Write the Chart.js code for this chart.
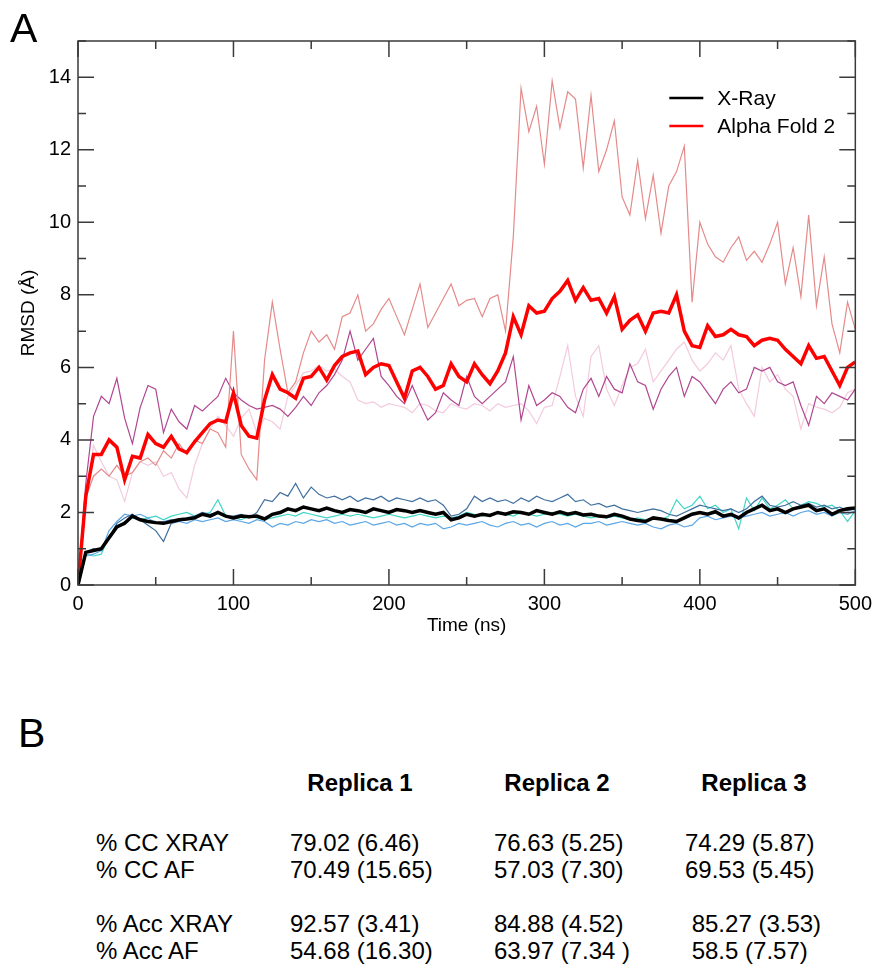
<!DOCTYPE html>
<html>
<head>
<meta charset="utf-8">
<script src="https://cdn.jsdelivr.net/npm/chart.js@4.4.1/dist/chart.umd.min.js"></script>
<style>
  body { margin: 0; background: #fff; font-family: "Liberation Sans", Arial, sans-serif; color: #000; }
  #page { position: relative; width: 879px; height: 967px; overflow: hidden; }
  #plot { position: absolute; left: 0; top: 0; width: 879px; height: 660px; }
  .lbl { position: absolute; font-size: 41px; line-height: 1; }
  .t { position: absolute; font-size: 24px; line-height: 1; white-space: pre; }
  .h { font-weight: bold; }
</style>
</head>
<body>
<div id="page">
  <div id="plot"><canvas id="rmsd" width="879" height="660"></canvas></div>
  <div class="lbl" style="left:10px; top:8px;">A</div>
  <div class="lbl" style="left:18px; top:713px;">B</div>
  <div id="tabla"></div>
</div>
<script>
// tempo: un punto ogni 5 ns, da 0 a 500
const passo = 5;

// X-Ray: media (linea spessa) e tre repliche
const xrayMedia = [0, 0.9, 0.95, 1.0, 1.3, 1.6, 1.7, 1.9, 1.8, 1.75, 1.72, 1.7, 1.75, 1.8, 1.82, 1.85, 1.95, 1.9, 2.0, 1.9,
  1.85, 1.9, 1.88, 1.9, 1.82, 1.95, 2.0, 2.1, 2.05, 2.15, 2.1, 2.05, 2.12, 2.05, 2.0, 2.08, 2.05, 2.0, 2.1, 2.05,
  2.0, 2.08, 2.05, 2.0, 2.05, 2.0, 1.95, 2.0, 1.8, 1.85, 1.95, 1.9, 1.95, 1.92, 2.0, 1.95, 2.02, 2.0, 1.95, 2.05,
  2.0, 1.95, 2.02, 1.95, 2.0, 1.93, 1.95, 1.9, 1.88, 1.95, 1.9, 1.82, 1.78, 1.75, 1.85, 1.82, 1.78, 1.75, 1.85, 1.95,
  2.0, 1.95, 2.02, 1.9, 1.95, 1.85, 2.0, 2.1, 2.2, 2.05, 2.1, 2.0, 2.1, 2.15, 2.2, 2.05, 2.1, 1.95, 2.05, 2.1, 2.12];
const xrayRep1 = [0, 0.9, 1.0, 0.95, 1.3, 1.7, 1.85, 1.95, 1.8, 1.65, 1.5, 1.2, 1.7, 1.75, 1.85, 1.9, 2.0, 1.95, 2.0, 1.9,
  1.9, 1.95, 1.85, 2.0, 2.35, 2.3, 2.55, 2.45, 2.8, 2.4, 2.7, 2.5, 2.4, 2.45, 2.35, 2.45, 2.3, 2.4, 2.35, 2.45,
  2.3, 2.4, 2.35, 2.3, 2.4, 2.3, 2.35, 2.2, 1.9, 1.95, 2.1, 2.45, 2.3, 2.4, 2.3, 2.35, 2.25, 2.4, 2.3, 2.45,
  2.35, 2.3, 2.4, 2.5, 2.3, 2.35, 2.2, 2.25, 2.15, 2.2, 2.1, 2.05, 2.0, 2.05, 2.1, 2.05, 1.95, 1.9, 2.0, 2.1,
  2.2, 2.15, 2.1, 2.05, 2.1, 2.0, 2.1, 2.3, 2.45, 2.2, 2.15, 2.2, 2.3, 2.2, 2.25, 2.15, 2.2, 2.1, 2.15, 2.05, 2.1];
const xrayRep2 = [0, 0.8, 0.85, 0.95, 1.5, 1.75, 1.95, 1.9, 1.95, 1.85, 1.7, 1.75, 1.8, 1.75, 1.7, 1.8, 1.75, 1.8, 1.85, 1.75,
  1.8, 1.75, 1.7, 1.8, 1.75, 1.6, 1.7, 1.65, 1.75, 1.7, 1.8, 1.75, 1.8, 1.7, 1.75, 1.65, 1.7, 1.75, 1.65, 1.7,
  1.75, 1.65, 1.7, 1.6, 1.7, 1.65, 1.7, 1.55, 1.6, 1.7, 1.65, 1.7, 1.75, 1.65, 1.6, 1.7, 1.75, 1.65, 1.7, 1.6,
  1.7, 1.75, 1.65, 1.7, 1.6, 1.7, 1.7, 1.75, 1.65, 1.7, 1.75, 1.7, 1.65, 1.7, 1.6, 1.55, 1.65, 1.7, 1.6, 1.65,
  1.85, 1.9, 1.8, 1.85, 1.9, 1.85, 1.9, 1.95, 2.0, 1.9, 1.95, 2.0, 1.9, 2.0, 2.05, 1.95, 2.0, 1.9, 2.0, 1.95, 2.05];
const xrayRep3 = [0, 0.85, 0.8, 0.85, 1.35, 1.6, 1.75, 1.85, 1.8, 1.85, 1.9, 1.8, 1.9, 1.95, 2.0, 1.9, 1.95, 2.0, 2.35, 1.9,
  1.85, 1.8, 1.9, 1.85, 1.8, 1.85, 1.9, 1.95, 1.9, 2.0, 1.95, 1.9, 1.85, 1.9, 1.95, 1.9, 1.95, 1.9, 1.85, 1.9,
  1.95, 1.9, 1.85, 1.9, 1.95, 1.9, 1.85, 1.9, 1.85, 1.9, 2.0, 1.95, 1.9, 1.95, 2.0, 1.95, 1.9, 2.0, 1.95, 1.9,
  1.95, 2.0, 1.95, 1.9, 1.95, 1.9, 1.85, 1.9, 1.85, 1.9, 1.85, 1.8, 1.85, 1.8, 1.85, 1.8, 1.9, 2.35, 2.1, 2.2,
  2.45, 2.1, 2.2, 2.0, 2.1, 1.55, 2.4, 2.05, 2.4, 2.1, 2.2, 2.35, 2.1, 2.2, 2.3, 2.25, 2.15, 2.2, 2.05, 1.75, 2.05];

// Alpha Fold 2: media (linea spessa) e tre repliche
const afMedia = [0, 2.45, 3.6, 3.6, 4.0, 3.8, 2.9, 3.55, 3.5, 4.15, 3.9, 3.8, 4.1, 3.75, 3.65, 3.95, 4.2, 4.45, 4.55, 4.5,
  5.3, 4.4, 4.1, 4.05, 5.1, 5.8, 5.4, 5.3, 5.15, 5.7, 5.75, 6.0, 5.65, 6.05, 6.3, 6.4, 6.45, 5.8, 6.0, 6.1,
  6.05, 5.6, 5.15, 5.9, 6.0, 5.75, 5.4, 5.5, 6.1, 5.75, 5.6, 6.1, 5.8, 5.55, 5.9, 6.4, 7.4, 6.9, 7.7, 7.5,
  7.55, 7.9, 8.1, 8.4, 7.85, 8.2, 7.85, 7.9, 7.5, 7.95, 7.05, 7.3, 7.45, 7.0, 7.5, 7.55, 7.5, 8.0, 7.0, 6.6,
  6.55, 7.15, 6.85, 6.9, 7.05, 6.9, 6.85, 6.6, 6.75, 6.8, 6.75, 6.5, 6.3, 6.1, 6.6, 6.25, 6.3, 5.9, 5.5, 6.0, 6.15];
const afRep1 = [0, 2.4, 3.0, 3.2, 3.0, 3.3, 3.0, 3.1, 3.4, 3.5, 3.3, 3.7, 3.5, 3.9, 3.6, 4.0, 3.9, 4.3, 4.2, 3.8,
  7.0, 3.6, 3.2, 2.9, 6.2, 7.8, 6.5, 5.3, 5.6, 6.4, 7.0, 6.7, 6.9, 6.5, 7.4, 7.5, 8.0, 7.0, 7.2, 7.6,
  7.9, 7.4, 6.9, 7.6, 8.3, 7.1, 7.5, 7.9, 8.3, 7.7, 7.85, 7.9, 7.4, 7.9, 8.0, 7.0, 9.6, 13.7, 12.5, 13.2,
  11.6, 13.9, 12.6, 13.6, 13.4, 11.5, 13.5, 11.4, 12.0, 12.8, 10.7, 10.2, 11.7, 10.1, 11.3, 9.7, 11.0, 11.4, 12.1, 7.8,
  10.0, 9.4, 9.05, 8.9, 9.3, 9.6, 8.95, 9.2, 8.9, 9.4, 10.0, 8.3, 9.3, 7.95, 10.2, 7.7, 9.05, 7.2, 6.4, 7.8, 7.05];
const afRep2 = [0, 2.8, 4.65, 5.2, 5.0, 5.7, 4.6, 3.9, 4.9, 5.5, 5.4, 4.2, 4.85, 4.5, 4.3, 4.95, 4.8, 5.0, 5.2, 5.7,
  5.3, 5.1, 4.95, 4.85, 4.9, 4.95, 4.85, 4.65, 4.9, 5.2, 4.95, 5.3, 5.5, 5.8, 6.2, 7.0, 6.2, 6.5, 6.8, 5.75,
  5.5, 5.2, 5.0, 5.5, 5.0, 4.55, 4.75, 5.3, 5.1, 4.95, 5.75, 5.2, 5.0, 5.2, 5.4, 5.6, 6.3, 4.55, 5.5, 4.95,
  5.1, 5.3, 5.2, 4.9, 4.75, 5.4, 5.7, 5.2, 5.75, 5.4, 5.3, 6.1, 5.6, 5.5, 4.85, 5.4, 5.75, 6.0, 5.2, 5.75,
  5.6, 5.3, 5.0, 5.4, 5.6, 5.3, 5.4, 6.0, 5.9, 6.0, 5.6, 5.5, 5.6, 4.95, 4.4, 5.2, 5.0, 5.3, 5.2, 5.1, 5.4];
const afRep3 = [0, 2.2, 3.85, 3.4, 3.0, 2.9, 2.3, 3.1, 3.4, 3.3, 3.4, 3.0, 3.1, 2.65, 2.4, 3.3, 3.9, 4.3, 4.65, 4.4,
  4.1, 4.6, 4.85, 4.2, 4.6, 4.5, 4.3, 5.2, 5.5, 5.85, 5.9, 6.05, 5.9, 5.95, 5.75, 5.6, 5.1, 5.0, 5.05, 4.9,
  5.0, 4.95, 4.9, 4.75, 5.0, 4.95, 4.8, 4.75, 5.0, 4.9, 4.85, 5.0, 4.95, 4.8, 5.0, 4.9, 4.95, 5.0, 4.8, 4.45,
  4.9, 4.95, 5.75, 6.6, 5.2, 4.65, 6.3, 6.6, 5.4, 4.95, 5.5, 6.0, 6.1, 6.5, 5.6, 5.9, 6.2, 6.5, 6.7, 6.2,
  5.9, 6.1, 6.4, 6.2, 6.6, 5.4, 5.0, 4.65, 6.0, 5.6, 5.8, 5.4, 5.2, 4.3, 5.0, 4.9, 4.85, 4.75, 4.9, 5.3, 5.4];

// tabella B
const repliche = ["Replica 1", "Replica 2", "Replica 3"];
const righe = ["% CC XRAY", "% CC AF", "% Acc XRAY", "% Acc AF"];
const valori = [
  ["79.02 (6.46)", "76.63 (5.25)", "74.29 (5.87)"],
  ["70.49 (15.65)", "57.03 (7.30)", "69.53 (5.45)"],
  ["92.57 (3.41)", "84.88 (4.52)", " 85.27 (3.53)"],
  ["54.68 (16.30)", "63.97 (7.34 )", " 58.5 (7.57)"],
];

function punti(serie) {
  return serie.map((v, i) => ({ x: i * passo, y: v }));
}

function linea(serie, colore, spessore, ordine) {
  return {
    data: punti(serie),
    borderColor: colore,
    borderWidth: spessore,
    pointRadius: 0,
    tension: 0,
    order: ordine,
  };
}

// cornice con le tacche verso l'interno su tutti e quattro i lati
const cornice = {
  id: "cornice",
  afterDatasetsDraw(chart) {
    const { ctx, chartArea: a, scales } = chart;
    ctx.save();
    ctx.strokeStyle = "#3a3a3a";
    ctx.lineWidth = 1.5;
    ctx.strokeRect(a.left, a.top, a.right - a.left, a.bottom - a.top);
    ctx.beginPath();
    for (let t = 0; t <= 500; t += 50) {
      const px = scales.x.getPixelForValue(t);
      const l = t % 100 === 0 ? 16 : 8;
      ctx.moveTo(px, a.bottom); ctx.lineTo(px, a.bottom - l);
      ctx.moveTo(px, a.top); ctx.lineTo(px, a.top + l);
    }
    for (let v = 0; v <= 15; v += 1) {
      const py = scales.y.getPixelForValue(v);
      const l = v % 2 === 0 ? 16 : 8;
      ctx.moveTo(a.left, py); ctx.lineTo(a.left + l, py);
      ctx.moveTo(a.right, py); ctx.lineTo(a.right - l, py);
    }
    ctx.stroke();

    // legenda dentro al grafico, in alto a destra
    const voci = [["X-Ray", "#000000"], ["Alpha Fold 2", "#ff0000"]];
    ctx.font = "21px 'Liberation Sans', Arial, sans-serif";
    ctx.textBaseline = "alphabetic";
    ctx.fillStyle = "#000";
    voci.forEach((v, i) => {
      const yy = a.top + 57 + i * 28;
      ctx.strokeStyle = v[1];
      ctx.lineWidth = 2.5;
      ctx.beginPath();
      ctx.moveTo(a.right - 186, yy);
      ctx.lineTo(a.right - 152, yy);
      ctx.stroke();
      ctx.fillText(v[0], a.right - 138, yy + 7);
    });
    ctx.restore();
  },
};

const config = {
  type: "line",
  data: {
    datasets: [
      linea(xrayMedia, "#000000", 3.5, 0),
      linea(afMedia, "#ff0000", 3.5, 1),
      linea(xrayRep1, "#3f6f9f", 1.2, 2),
      linea(xrayRep2, "#5aa6e6", 1.2, 3),
      linea(xrayRep3, "#40d6c6", 1.2, 4),
      linea(afRep1, "#e58a8a", 1.2, 5),
      linea(afRep2, "#b0468f", 1.2, 6),
      linea(afRep3, "#f3cade", 1.2, 7),
    ],
  },
  options: {
    responsive: false,
    animation: false,
    layout: { padding: { top: 41, right: 22, left: 0, bottom: 0 } },
    plugins: { legend: { display: false }, tooltip: { enabled: false } },
    scales: {
      x: {
        type: "linear",
        min: 0,
        max: 500,
        grid: { display: false, drawTicks: false },
        border: { display: false },
        ticks: { stepSize: 100, color: "#000", padding: 7, maxRotation: 0, font: { size: 20, family: "'Liberation Sans', Arial" } },
        title: { display: true, text: "Time (ns)", color: "#000", padding: { top: 0, bottom: 23 }, font: { size: 19, family: "'Liberation Sans', Arial" } },
        afterFit(s) { s.height = 75; },
      },
      y: {
        min: 0,
        max: 15,
        grid: { display: false, drawTicks: false },
        border: { display: false },
        ticks: { stepSize: 2, color: "#000", padding: 7, font: { size: 20, family: "'Liberation Sans', Arial" } },
        afterBuildTicks(s) { s.ticks = s.ticks.filter((t) => t.value % 2 === 0); },
        title: { display: true, text: "RMSD (Å)", color: "#000", padding: { top: 17, bottom: 0 }, font: { size: 19, family: "'Liberation Sans', Arial" } },
        afterFit(s) { s.width = 78; },
      },
    },
  },
  plugins: [cornice],
};

new Chart(document.getElementById("rmsd"), config);

// tabella sotto il grafico
const tab = document.getElementById("tabla");
const colonneX = [290, 494, 685];
const centriRep = [360, 557, 754];
const righeY = [831, 858, 912, 939];
repliche.forEach((r, i) => {
  const d = document.createElement("div");
  d.className = "t h";
  d.textContent = r;
  d.style.left = centriRep[i] + "px";
  d.style.top = "771px";
  d.style.transform = "translateX(-50%)";
  tab.appendChild(d);
});
righe.forEach((r, j) => {
  const d = document.createElement("div");
  d.className = "t";
  d.textContent = r;
  d.style.left = "96px";
  d.style.top = righeY[j] + "px";
  tab.appendChild(d);
  valori[j].forEach((v, i) => {
    const c = document.createElement("div");
    c.className = "t";
    c.textContent = v;
    c.style.left = colonneX[i] + "px";
    c.style.top = righeY[j] + "px";
    tab.appendChild(c);
  });
});
</script>
</body>
</html>
